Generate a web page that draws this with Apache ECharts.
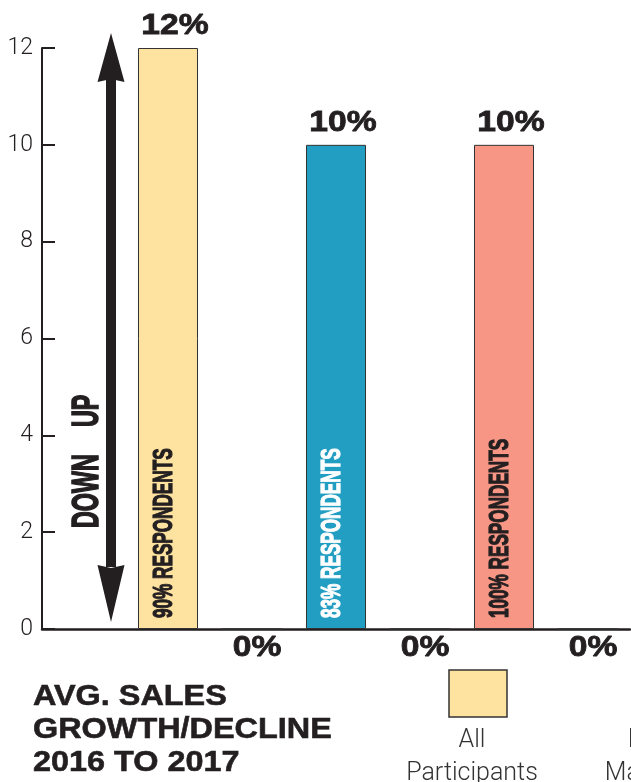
<!DOCTYPE html>
<html>
<head>
<meta charset="utf-8">
<script src="https://cdn.jsdelivr.net/npm/echarts@6/dist/echarts.min.js"></script>
<style>
html,body{margin:0;padding:0;background:#fff;}
#c{width:631px;height:782px;}
</style>
</head>
<body>
<div id="c"></div>
<script>
// ---- data ----
const groups = ['All Participants', 'Brand Marketers', 'Other Participants'];
const upValues = [12, 10, 10];
const downValues = [0, 0, 0];
const respondents = ['90%', '83%', '100%'];
const legendLines = [['All', 'Participants'], ['Brand', 'Marketers'], ['Other', 'Participants']];
const yMin = 0, yMax = 12, yStep = 2;
const titleLines = ['AVG. SALES', 'GROWTH/DECLINE', '2016 TO 2017'];

// ---- styles ----
const colors = ['#fee29f', '#229ec2', '#f79684'];
const respColors = ['#231f20', '#ffffff', '#231f20'];
const ink = '#231f20';

// categories: one empty band for the arrow, then up/down per group
const categories = [' '];
groups.forEach(g => { categories.push(g + ' (up)'); categories.push(g + ' (down)'); });
const barData = [null];
groups.forEach((g, i) => {
  barData.push({ value: upValues[i], itemStyle: { color: colors[i] } });
  barData.push({ value: downValues[i], itemStyle: { color: colors[i] } });
});

const chart = echarts.init(document.getElementById('c'));
chart.setOption({
  animation: false,
  backgroundColor: '#fff',
  grid: { left: 42, right: 1, top: 48, bottom: 153 },
  xAxis: {
    type: 'category',
    data: categories,
    axisLine: { lineStyle: { color: ink, width: 2.5 } },
    axisTick: { inside: true, length: 13, interval: 0, lineStyle: { color: ink, width: 2 } },
    axisLabel: { show: false }
  },
  yAxis: {
    type: 'value',
    min: yMin, max: yMax, interval: yStep,
    axisLine: { show: true, lineStyle: { color: ink, width: 2 } },
    axisTick: { show: true, inside: true, length: 13, lineStyle: { color: ink, width: 2 } },
    splitLine: { show: false },
    axisLabel: { color: ink, fontSize: 23, margin: 9, fontFamily: 'Roboto, "Liberation Sans", sans-serif', fontWeight: 300 }
  },
  series: [{
    type: 'bar',
    data: barData,
    barWidth: 60,
    itemStyle: { borderColor: '#333', borderWidth: 1 }
  }]
});

function px(cat, val) { return chart.convertToPixel({ gridIndex: 0 }, [cat, val]); }

const heavy = 'bold 29px "Liberation Sans", Arial, sans-serif';
const cond = 'bold 27px "Liberation Sans", Arial, sans-serif';
const g = [];

// value labels above up bars, 0% labels below down bars, respondents inside bars
groups.forEach((name, i) => {
  const upCat = 1 + i * 2, downCat = 2 + i * 2;
  const top = px(upCat, upValues[i]);
  g.push({ type: 'text', x: top[0] + 7, y: top[1] - 22, scaleX: 1.16, z: 100,
    style: { text: upValues[i] + '%', font: heavy, fill: ink, stroke: ink, lineWidth: 0.8, textAlign: 'center', textVerticalAlign: 'middle' } });
  const dn = px(downCat, downValues[i]);
  g.push({ type: 'text', x: dn[0] + 5, y: dn[1] + 19, scaleX: 1.16, z: 100,
    style: { text: downValues[i] + '%', font: heavy, fill: ink, stroke: ink, lineWidth: 0.8, textAlign: 'center', textVerticalAlign: 'middle' } });
  const base = px(upCat, 0);
  g.push({ type: 'text', x: base[0] - 3.5, y: base[1] - 11, rotation: Math.PI / 2, scaleX: 0.635, z: 100,
    style: { text: respondents[i] + ' RESPONDENTS', font: cond, fill: respColors[i], stroke: respColors[i], lineWidth: 1.2, textAlign: 'left', textVerticalAlign: 'middle' } });
});

// up/down arrow in the first band
const z0 = px(0, 0);
const cx = z0[0] + 27;
const yTop = z0[1] - 596, yBot = z0[1] - 7;
g.push({ type: 'rect', z: 90, shape: { x: cx - 5, y: yTop + 45, width: 10, height: (yBot - 55) - (yTop + 45) }, style: { fill: ink } });
g.push({ type: 'polygon', z: 90, shape: { points: [[cx, yTop], [cx + 13.5, yTop + 49], [cx, yTop + 46], [cx - 13.5, yTop + 49]] }, style: { fill: ink } });
g.push({ type: 'polygon', z: 90, shape: { points: [[cx, yBot], [cx + 13.5, yBot - 57], [cx, yBot - 54], [cx - 13.5, yBot - 57]] }, style: { fill: ink } });
const arrowFont = 'bold 37px "Liberation Sans", Arial, sans-serif';
g.push({ type: 'text', x: cx - 23, y: z0[1] - 101, rotation: Math.PI / 2, scaleX: 0.63, z: 100,
  style: { text: 'DOWN', font: arrowFont, fill: ink, stroke: ink, lineWidth: 1.6, textAlign: 'left', textVerticalAlign: 'middle' } });
g.push({ type: 'text', x: cx - 23, y: z0[1] - 202, rotation: Math.PI / 2, scaleX: 0.63, z: 100,
  style: { text: 'UP', font: arrowFont, fill: ink, stroke: ink, lineWidth: 1.6, textAlign: 'left', textVerticalAlign: 'middle' } });

// title
titleLines.forEach((t, k) => {
  g.push({ type: 'text', x: 33, y: 697 + k * 33, scaleX: 1.08, z: 100,
    style: { text: t, font: 'bold 30px "Liberation Sans", Arial, sans-serif', fill: ink, stroke: ink, lineWidth: 0.6, textAlign: 'left', textVerticalAlign: 'middle' } });
});

// legend (square over two-line caption)
const legendCenters = [472, 660, 848];
groups.forEach((name, i) => {
  const lc = legendCenters[i];
  g.push({ type: 'rect', z: 100, shape: { x: lc - 26 + (i === 0 ? 3 : 0), y: 670, width: 58, height: 47 },
    style: { fill: colors[i], stroke: '#333', lineWidth: 1.5 } });
  legendLines[i].forEach((ln, k) => {
    g.push({ type: 'text', x: lc, y: 741 + k * 33, z: 100,
      style: { text: ln, font: '300 25px Roboto, "Liberation Sans", sans-serif', fill: '#333', textAlign: 'center', textVerticalAlign: 'middle' } });
  });
});

chart.setOption({ graphic: g });
</script>
</body>
</html>
